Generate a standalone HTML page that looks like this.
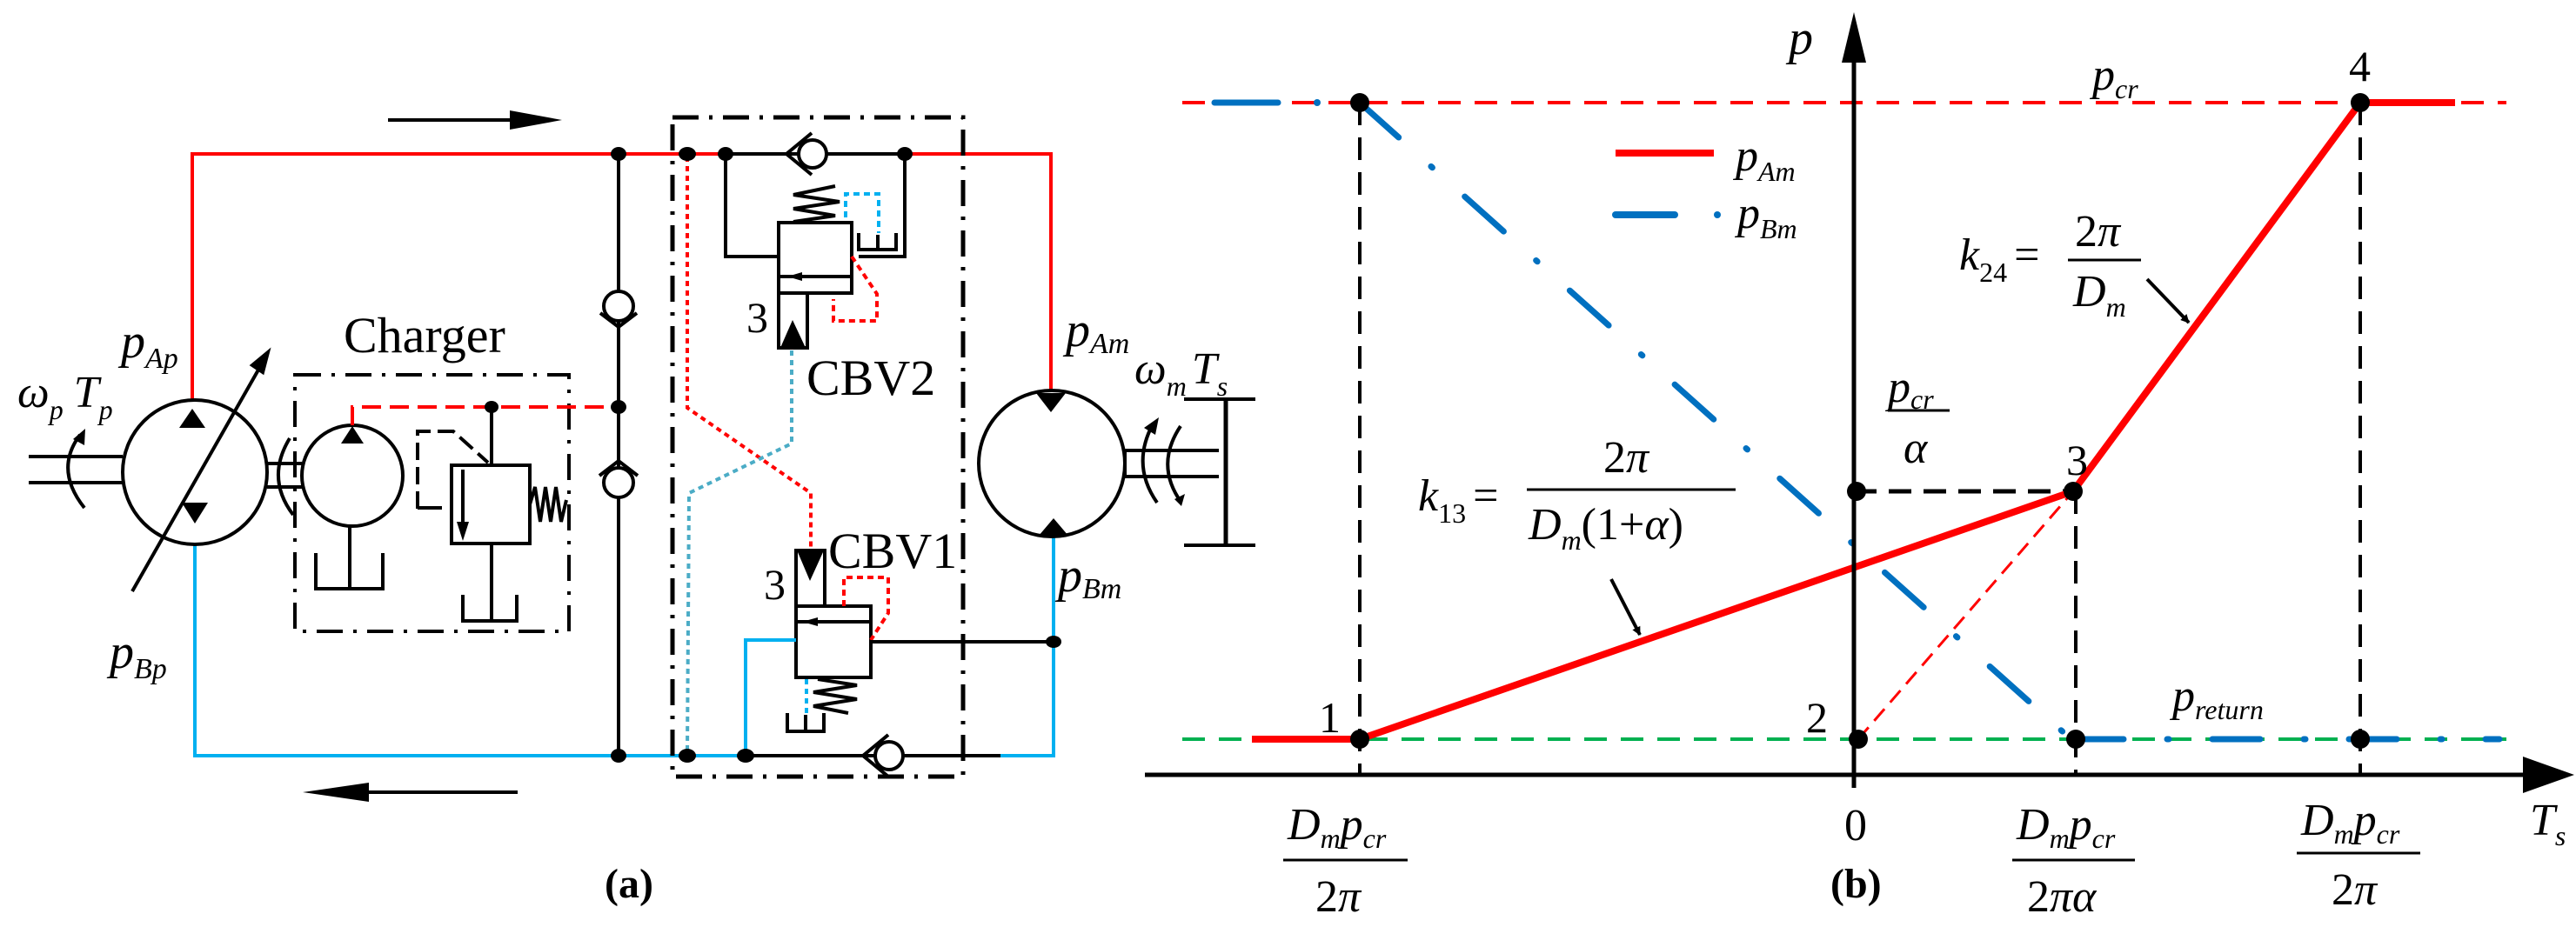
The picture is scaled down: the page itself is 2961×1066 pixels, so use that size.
<!DOCTYPE html>
<html><head><meta charset="utf-8"><style>
html,body{margin:0;padding:0;background:#fff;}
svg{display:block;}
text{font-family:"Liberation Serif",serif;fill:#000;}
.i{font-style:italic;}
</style></head><body>
<svg width="2961" height="1066" viewBox="0 0 2961 1066" xmlns="http://www.w3.org/2000/svg">
<defs>
<marker id="ah" markerWidth="10" markerHeight="10" refX="9" refY="5" orient="auto" markerUnits="userSpaceOnUse" viewBox="0 0 10 10"><path d="M0,0 L10,5 L0,10 z" fill="#000"/></marker>
</defs>
<g fill="none" stroke-linecap="butt">
<!-- ===== (a) circuit ===== -->
<!-- flow arrows -->
<line x1="446" y1="138" x2="600" y2="138" stroke="#000" stroke-width="4"/>
<path d="M586,127 L646,138 L586,149 z" fill="#000"/>
<line x1="595" y1="911" x2="410" y2="911" stroke="#000" stroke-width="4"/>
<path d="M424,900 L348,911 L424,922 z" fill="#000"/>

<!-- red high-pressure line -->
<polyline points="221,472 221,177 834,177" stroke="#f00" stroke-width="4"/>
<polyline points="1040,177 1208,177 1208,470" stroke="#f00" stroke-width="4"/>
<!-- blue low-pressure line -->
<polyline points="224,601 224,869 857,869" stroke="#00b0f0" stroke-width="4"/>
<polyline points="1150,869 1211,869 1211,738" stroke="#00b0f0" stroke-width="4"/>
<polyline points="1211,738 1211,600" stroke="#00b0f0" stroke-width="4"/>

<!-- left vertical line with check valves -->
<line x1="711" y1="177" x2="711" y2="869" stroke="#000" stroke-width="4"/>
<circle cx="711" cy="352" r="17" fill="#fff" stroke="#000" stroke-width="4"/>
<polyline points="690,360 711,376 732,360" stroke="#000" stroke-width="4"/>
<circle cx="711" cy="555" r="17" fill="#fff" stroke="#000" stroke-width="4"/>
<polyline points="689,547 711,530 733,547" stroke="#000" stroke-width="4"/>

<!-- main pump -->
<circle cx="224" cy="543" r="83" fill="#fff" stroke="#000" stroke-width="4"/>
<path d="M206,492 L221,470 L236,492 z" fill="#000"/>
<path d="M209,596 L224,620 L239,596 z" fill="#000" transform="translate(0,-18)"/>
<line x1="152" y1="680" x2="300" y2="420" stroke="#000" stroke-width="4"/>
<path d="M308,405 L290,420 L302,428 z" fill="#000" stroke="#000" stroke-width="4"/>
<line x1="33" y1="525" x2="141" y2="525" stroke="#000" stroke-width="4"/>
<line x1="33" y1="555" x2="141" y2="555" stroke="#000" stroke-width="4"/>
<path d="M97,584 Q62,540 92,500" stroke="#000" stroke-width="4"/>
<path d="M84,505 L98,493 L97,512 z" fill="#000"/>
<!-- shaft to charger pump -->
<line x1="307" y1="533" x2="347" y2="533" stroke="#000" stroke-width="4"/>
<line x1="307" y1="560" x2="347" y2="560" stroke="#000" stroke-width="4"/>
<path d="M337,592 Q305,550 333,504" stroke="#000" stroke-width="4"/>

<!-- charger box -->
<rect x="339" y="431" width="315" height="295" stroke="#000" stroke-width="4" stroke-dasharray="30 12 4 12"/>
<circle cx="405" cy="547" r="58" fill="#fff" stroke="#000" stroke-width="4"/>
<path d="M392,510 L405,490 L418,510 z" fill="#000"/>
<polyline points="405,489 405,468 711,468" stroke="#f00" stroke-width="4" stroke-dasharray="22 10"/>
<line x1="402" y1="605" x2="402" y2="677" stroke="#000" stroke-width="4"/>
<polyline points="363,636 363,677 440,677 440,636" stroke="#000" stroke-width="4"/>
<!-- relief valve -->
<line x1="565" y1="468" x2="565" y2="535" stroke="#000" stroke-width="4"/>
<rect x="519" y="535" width="90" height="90" stroke="#000" stroke-width="4" fill="#fff"/>
<line x1="532" y1="540" x2="532" y2="605" stroke="#000" stroke-width="4"/>
<path d="M525,600 L532,622 L539,600 z" fill="#000"/>
<polyline points="609,580 615,560 621,600 627,560 633,600 639,560 645,600 651,575" stroke="#000" stroke-width="4"/>
<polyline points="480,585 480,496 521,496 561,532" stroke="#000" stroke-width="4" stroke-dasharray="20 8"/>
<line x1="480" y1="584" x2="508" y2="584" stroke="#000" stroke-width="4"/>
<line x1="565" y1="625" x2="565" y2="714" stroke="#000" stroke-width="4"/>
<polyline points="532,684 532,714 594,714 594,684" stroke="#000" stroke-width="4"/>

<!-- CBV dash-dot box -->
<rect x="773" y="135" width="334" height="758" stroke="#000" stroke-width="5" stroke-dasharray="30 12 4 12"/>

<!-- top branch -->
<line x1="834" y1="177" x2="1040" y2="177" stroke="#000" stroke-width="4"/>
<line x1="790" y1="177" x2="834" y2="177" stroke="#f00" stroke-width="4"/>
<circle cx="934" cy="177" r="16" fill="#fff" stroke="#000" stroke-width="4"/>
<polyline points="933,153 904,177 933,201" stroke="#000" stroke-width="4"/>
<polyline points="834,177 834,295 895,295" stroke="#000" stroke-width="4"/>
<polyline points="1040,177 1040,295 987,295" stroke="#000" stroke-width="4"/>
<!-- CBV2 -->
<rect x="895" y="256" width="84" height="81" fill="#fff" stroke="#000" stroke-width="4"/>
<line x1="895" y1="318" x2="979" y2="318" stroke="#000" stroke-width="4"/>
<path d="M905,318 L922,313 L922,323 z" fill="#000"/>
<rect x="895" y="337" width="33" height="63" fill="#fff" stroke="#000" stroke-width="4"/>
<path d="M897,400 L911,368 L926,400 z" fill="#000"/>
<polyline points="912,255 960,248 912,240 965,232 912,224 960,214" stroke="#000" stroke-width="4"/>
<polyline points="972,250 972,223 1010,223 1010,268" stroke="#00b0f0" stroke-width="4" stroke-dasharray="7 5"/>
<polyline points="987,268 987,287 1030,287 1030,268" stroke="#000" stroke-width="4"/>
<line x1="1009" y1="270" x2="1009" y2="287" stroke="#000" stroke-width="4"/>
<polyline points="979,295 1008,338 1008,369 958,369 958,344" stroke="#f00" stroke-width="4" stroke-dasharray="7 5"/>
<!-- crossing pilot lines -->
<polyline points="790,180 790,469 932,567 932,632" stroke="#f00" stroke-width="4" stroke-dasharray="6 5"/>
<polyline points="910,403 910,510 792,567 790,866" stroke="#4bacc6" stroke-width="4" stroke-dasharray="6 5"/>
<!-- CBV1 -->
<rect x="915" y="633" width="33" height="64" fill="#fff" stroke="#000" stroke-width="4"/>
<path d="M917,635 L931,668 L946,635 z" fill="#000"/>
<rect x="915" y="697" width="86" height="82" fill="#fff" stroke="#000" stroke-width="4"/>
<line x1="915" y1="715" x2="1001" y2="715" stroke="#000" stroke-width="4"/>
<path d="M922,715 L940,710 L940,720 z" fill="#000"/>
<polyline points="940,781 985,788 935,796 985,804 935,812 975,820" stroke="#000" stroke-width="4"/>
<line x1="927" y1="781" x2="927" y2="822" stroke="#00b0f0" stroke-width="4" stroke-dasharray="6 5"/>
<polyline points="905,820 905,841 947,841 947,820" stroke="#000" stroke-width="4"/>
<line x1="926" y1="822" x2="926" y2="841" stroke="#000" stroke-width="4"/>
<polyline points="970,697 970,664 1021,664 1021,705 1001,736" stroke="#f00" stroke-width="4" stroke-dasharray="7 5"/>
<polyline points="915,736 857,736 857,869" stroke="#00b0f0" stroke-width="4"/>
<line x1="1001" y1="738" x2="1211" y2="738" stroke="#000" stroke-width="4"/>
<line x1="790" y1="869" x2="857" y2="869" stroke="#00b0f0" stroke-width="4"/>
<!-- bottom check valve -->
<line x1="857" y1="869" x2="1150" y2="869" stroke="#000" stroke-width="4"/>
<circle cx="1022" cy="869" r="16" fill="#fff" stroke="#000" stroke-width="4"/>
<polyline points="1021,845 992,869 1021,893" stroke="#000" stroke-width="4"/>

<!-- motor -->
<circle cx="1209" cy="533" r="84" fill="#fff" stroke="#000" stroke-width="4"/>
<path d="M1191,452 L1208,474 L1225,452 z" fill="#000"/>
<path d="M1194,616 L1211,596 L1228,616 z" fill="#000"/>
<line x1="1293" y1="518" x2="1401" y2="518" stroke="#000" stroke-width="4"/>
<line x1="1293" y1="548" x2="1401" y2="548" stroke="#000" stroke-width="4"/>
<line x1="1293" y1="518" x2="1293" y2="548" stroke="#000" stroke-width="4"/>
<path d="M1330,578 Q1300,535 1325,488" stroke="#000" stroke-width="4"/>
<path d="M1315,492 L1332,480 L1328,500 z" fill="#000"/>
<path d="M1357,490 Q1327,535 1358,578" stroke="#000" stroke-width="4"/>
<path d="M1350,574 L1358,582 L1362,568 z" fill="#000"/>
<line x1="1409" y1="459" x2="1409" y2="627" stroke="#000" stroke-width="5"/>
<line x1="1361" y1="459" x2="1443" y2="459" stroke="#000" stroke-width="4"/>
<line x1="1361" y1="627" x2="1443" y2="627" stroke="#000" stroke-width="4"/>
</g>
<!-- junction dots (a) -->
<g fill="#000">
<ellipse cx="711" cy="177" rx="9" ry="8"/><ellipse cx="711" cy="468" rx="9" ry="8"/><ellipse cx="711" cy="869" rx="9" ry="8"/>
<ellipse cx="790" cy="177" rx="10" ry="8"/><ellipse cx="834" cy="177" rx="9" ry="8"/><ellipse cx="1040" cy="177" rx="9" ry="8"/>
<ellipse cx="790" cy="869" rx="10" ry="8"/><ellipse cx="857" cy="869" rx="10" ry="8"/><ellipse cx="1211" cy="738" rx="9" ry="7"/>
<ellipse cx="565" cy="468" rx="8" ry="7"/>
</g>
<!-- (a) labels -->
<text x="395" y="405" font-size="58">Charger</text>
<text x="139" y="411" font-size="56" class="i">p<tspan font-size="34" dy="12">Ap</tspan></text>
<text x="20" y="468" font-size="52" class="i">ω<tspan font-size="32" dy="14">p</tspan><tspan dx="12" dy="-14" font-size="52">T</tspan><tspan font-size="32" dy="14">p</tspan></text>
<text x="126" y="768" font-size="56" class="i">p<tspan font-size="34" dy="12">Bp</tspan></text>
<text x="858" y="382" font-size="50">3</text>
<text x="927" y="454" font-size="58">CBV2</text>
<text x="878" y="689" font-size="50">3</text>
<text x="952" y="653" font-size="58">CBV1</text>
<text x="1225" y="398" font-size="56" class="i">p<tspan font-size="34" dy="8">Am</tspan></text>
<text x="1304" y="441" font-size="52" class="i">ω<tspan font-size="32" dy="14">m</tspan><tspan dx="6" dy="-14" font-size="52">T</tspan><tspan font-size="32" dy="14">s</tspan></text>
<text x="1216" y="680" font-size="56" class="i">p<tspan font-size="34" dy="8">Bm</tspan></text>
<text x="695" y="1032" font-size="48" font-weight="bold">(a)</text>

<!-- ===== (b) graph ===== -->
<g fill="none">
<line x1="1359" y1="118" x2="2881" y2="118" stroke="#f00" stroke-width="4" stroke-dasharray="26 16"/>
<line x1="1359" y1="850" x2="2881" y2="850" stroke="#00b050" stroke-width="4" stroke-dasharray="26 16"/>
<line x1="1563" y1="118" x2="1563" y2="891" stroke="#000" stroke-width="4" stroke-dasharray="26 14"/>
<line x1="2386" y1="565" x2="2386" y2="891" stroke="#000" stroke-width="4" stroke-dasharray="26 14"/>
<line x1="2713" y1="118" x2="2713" y2="891" stroke="#000" stroke-width="4" stroke-dasharray="26 14"/>
<line x1="2131" y1="565" x2="2383" y2="565" stroke="#000" stroke-width="5" stroke-dasharray="26 14"/>
<!-- blue pBm -->
<line x1="1396" y1="118" x2="1469" y2="118" stroke="#0070c0" stroke-width="7" stroke-linecap="round"/>
<circle cx="1514" cy="118" r="4" fill="#0070c0"/>
<line x1="1563" y1="118" x2="2375" y2="845" stroke="#0070c0" stroke-width="7" stroke-linecap="round" stroke-dasharray="60 50 2 50"/>
<line x1="2386" y1="850" x2="2873" y2="850" stroke="#0070c0" stroke-width="7" stroke-linecap="round" stroke-dasharray="55 50 2 50"/>
<!-- red pAm -->
<polyline points="1439,850 1563,850 2383,565 2713,118 2822,118" stroke="#f00" stroke-width="8" stroke-linejoin="round"/>
<line x1="2136" y1="850" x2="2383" y2="565" stroke="#f00" stroke-width="3" stroke-dasharray="18 10"/>
<!-- axes -->
<line x1="1316" y1="891" x2="2920" y2="891" stroke="#000" stroke-width="5"/>
<path d="M2900,870 L2959,891 L2900,912 z" fill="#000"/>
<line x1="2131" y1="60" x2="2131" y2="906" stroke="#000" stroke-width="5"/>
<path d="M2117,72 L2131,14 L2145,72 z" fill="#000"/>
<!-- legend -->
<line x1="1857" y1="176" x2="1970" y2="176" stroke="#f00" stroke-width="8"/>
<line x1="1857" y1="247" x2="1925" y2="247" stroke="#0070c0" stroke-width="8" stroke-linecap="round"/>
<circle cx="1974" cy="247" r="4" fill="#0070c0"/>
<!-- slope arrows -->
<line x1="2468" y1="321" x2="2516" y2="371" stroke="#000" stroke-width="4" marker-end="url(#ah)"/>
<line x1="1852" y1="666" x2="1885" y2="730" stroke="#000" stroke-width="4" marker-end="url(#ah)"/>
<!-- fraction bars -->
<line x1="2377" y1="299" x2="2461" y2="299" stroke="#000" stroke-width="3"/>
<line x1="2170" y1="472" x2="2241" y2="472" stroke="#000" stroke-width="3"/>
<line x1="1755" y1="563" x2="1995" y2="563" stroke="#000" stroke-width="3"/>
<line x1="1475" y1="989" x2="1618" y2="989" stroke="#000" stroke-width="3"/>
<line x1="2313" y1="989" x2="2454" y2="989" stroke="#000" stroke-width="3"/>
<line x1="2640" y1="981" x2="2782" y2="981" stroke="#000" stroke-width="3"/>
</g>
<g fill="#000">
<circle cx="1563" cy="118" r="11"/><circle cx="2713" cy="118" r="11"/>
<circle cx="1563" cy="850" r="11"/><circle cx="2136" cy="850" r="11"/>
<circle cx="2386" cy="850" r="11"/><circle cx="2713" cy="850" r="11"/>
<circle cx="2383" cy="565" r="11"/><circle cx="2134" cy="565" r="11"/>
</g>
<!-- graph labels -->
<text x="2056" y="62" font-size="56" class="i">p</text>
<text x="2405" y="103" font-size="52" class="i">p<tspan font-size="32" dy="10">cr</tspan></text>
<text x="2700" y="93" font-size="50">4</text>
<text x="1995" y="196" font-size="52" class="i">p<tspan font-size="32" dy="12">Am</tspan></text>
<text x="1997" y="262" font-size="52" class="i">p<tspan font-size="32" dy="12">Bm</tspan></text>
<text x="2252" y="310" font-size="52" class="i">k<tspan font-size="32" dy="14" font-style="normal">24</tspan><tspan dy="-14" dx="8" font-style="normal">=</tspan></text>
<text x="2385" y="283" font-size="52">2<tspan class="i">π</tspan></text>
<text x="2383" y="352" font-size="52" class="i">D<tspan font-size="32" dy="12">m</tspan></text>
<text x="2170" y="462" font-size="52" class="i">p<tspan font-size="32" dy="8">cr</tspan></text>
<text x="2188" y="532" font-size="52" class="i">α</text>
<text x="2375" y="546" font-size="50">3</text>
<text x="1630" y="587" font-size="52" class="i">k<tspan font-size="32" dy="14" font-style="normal">13</tspan><tspan dy="-14" dx="8" font-style="normal">=</tspan></text>
<text x="1843" y="543" font-size="52">2<tspan class="i">π</tspan></text>
<text x="1757" y="620" font-size="52"><tspan class="i">D</tspan><tspan class="i" font-size="32" dy="12">m</tspan><tspan dy="-12">(1+</tspan><tspan class="i">α</tspan>)</text>
<text x="1516" y="842" font-size="50">1</text>
<text x="2076" y="842" font-size="50">2</text>
<text x="2497" y="817" font-size="52" class="i">p<tspan font-size="32" dy="10">return</tspan></text>
<text x="1480" y="965" font-size="52" class="i">D<tspan font-size="32" dy="10">m</tspan><tspan dy="-10">p</tspan><tspan font-size="32" dy="10">cr</tspan></text>
<text x="1512" y="1048" font-size="52">2<tspan class="i">π</tspan></text>
<text x="2120" y="966" font-size="52">0</text>
<text x="2318" y="965" font-size="52" class="i">D<tspan font-size="32" dy="10">m</tspan><tspan dy="-10">p</tspan><tspan font-size="32" dy="10">cr</tspan></text>
<text x="2330" y="1048" font-size="52">2<tspan class="i">πα</tspan></text>
<text x="2645" y="960" font-size="52" class="i">D<tspan font-size="32" dy="10">m</tspan><tspan dy="-10">p</tspan><tspan font-size="32" dy="10">cr</tspan></text>
<text x="2680" y="1040" font-size="52">2<tspan class="i">π</tspan></text>
<text x="2908" y="960" font-size="52" class="i">T<tspan font-size="32" dy="12">s</tspan></text>
<text x="2104" y="1032" font-size="48" font-weight="bold">(b)</text>
</svg>
</body></html>
